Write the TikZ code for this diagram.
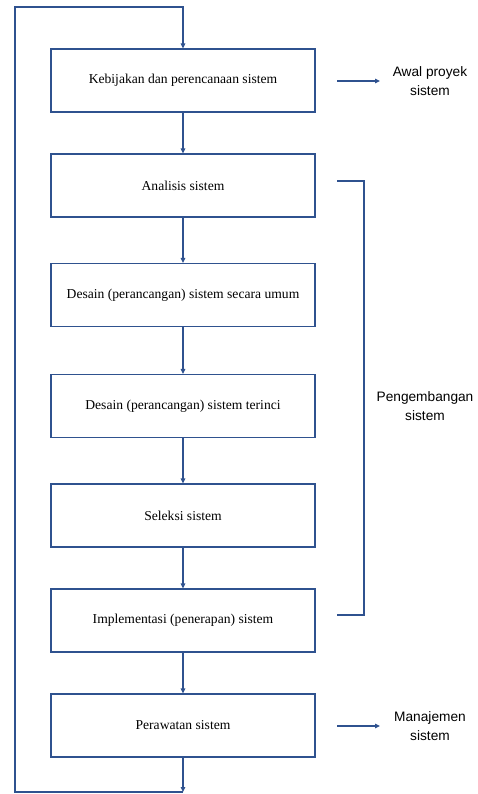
\documentclass[tikz,border=0pt]{standalone}
\usepackage{fontspec}
\setmainfont{Liberation Serif}
\newfontfamily\labelfont{Liberation Sans}
\usetikzlibrary{arrows.meta}
\definecolor{flowblue}{RGB}{47,82,143}
\begin{document}
\begin{tikzpicture}[x=1pt,y=-1pt,
  stage/.style={draw=flowblue, line width=1.1pt, minimum width=264pt, minimum height=63pt,
    inner sep=0pt, font=\fontsize{13.6}{16}\selectfont},
  link/.style={draw=flowblue, line width=1.1pt, -{Triangle[length=5pt,width=4.5pt]}},
  plain/.style={draw=flowblue, line width=1.1pt},
  note/.style={font=\labelfont\fontsize{13.7}{19}\selectfont, align=center, inner sep=0pt}]
  \useasboundingbox (0,0) rectangle (478,794);

  % stages of the cycle
  \node[stage] (b1) at (183,80.5) {Kebijakan dan perencanaan sistem};
  \node[stage] (b2) at (183,185.5) {Analisis sistem};
  \node[stage] (b3) at (183,295) {Desain (perancangan) sistem secara umum};
  \node[stage] (b4) at (183,406) {Desain (perancangan) sistem terinci};
  \node[stage] (b5) at (183,515.5) {Seleksi sistem};
  \node[stage] (b6) at (183,620.5) {Implementasi (penerapan) sistem};
  \node[stage] (b7) at (183,725.5) {Perawatan sistem};

  \foreach \a/\b in {b1/b2,b2/b3,b3/b4,b4/b5,b5/b6,b6/b7}
    \draw[link] (\a.south) -- (\b.north);

  % feedback loop back to the first stage
  \coordinate (lb) at (183,792);
  \coordinate (ll) at (15,792);
  \coordinate (lt) at (15,7);
  \coordinate (lr) at (183,7);
  \draw[link] (b7.south) -- (lb);
  \draw[link] (lb) -- (ll) -- (lt) -- (lr) -- (b1.north);

  % side annotations
  \coordinate (a1) at (337,81);
  \node[note] (n1) at (430,81) {Awal proyek\\sistem};
  \draw[link] (a1) -- (380,81);

  \coordinate (a7) at (337,726);
  \node[note] (n7) at (430,726) {Manajemen\\sistem};
  \draw[link] (a7) -- (380,726);

  % bracket spanning the development stages
  \coordinate (k1) at (337,181);
  \coordinate (k2) at (364,181);
  \coordinate (k3) at (364,615);
  \coordinate (k4) at (337,615);
  \draw[plain] (k1) -- (k2) -- (k3) -- (k4);
  \node[note] (dev) at (425,406) {Pengembangan\\sistem};
\end{tikzpicture}
\end{document}
